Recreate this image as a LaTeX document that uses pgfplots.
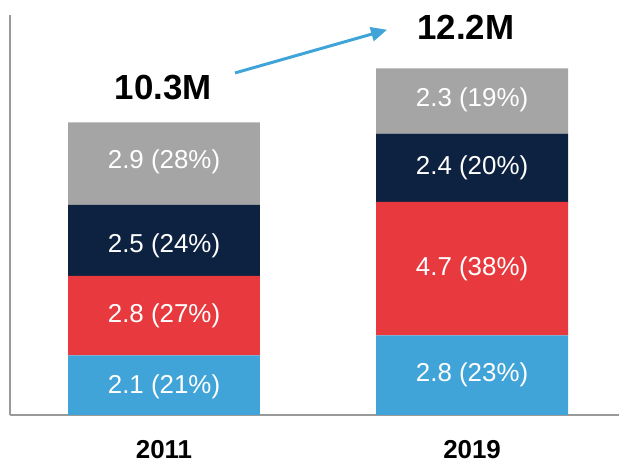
\documentclass[border=0pt]{standalone}
\usepackage{pgfplots}
\pgfplotsset{compat=1.18}
\usepackage{fontspec}
\setmainfont{Liberation Sans}
\usetikzlibrary{arrows.meta}

\definecolor{segblue}{HTML}{40A4D8}
\definecolor{segred}{HTML}{E83A3E}
\definecolor{segnavy}{HTML}{0D2240}
\definecolor{seggray}{HTML}{A5A5A5}
\definecolor{axisgray}{HTML}{9A9A9A}

\tikzset{seglabel/.style={text=white, font=\fontsize{26}{30}\selectfont}}

\begin{document}
\begin{tikzpicture}
\path[use as bounding box] (0,0) rectangle (619bp,464bp);
\begin{axis}[
    at={(10bp,49bp)}, anchor=south west,
    scale only axis,
    width=609bp, height=400bp,
    xmin=-0.5, xmax=1.477,
    ymin=0, ymax=14.08,
    ybar stacked,
    bar width=0.623,
    axis x line=bottom, axis y line=left,
    axis line style={-, axisgray, line width=1.2pt},
    ytick=\empty,
    xtick={0,1},
    xticklabels={2011,2019},
    major tick length=0pt,
    xticklabel style={font=\fontsize{26}{30}\selectfont\bfseries, text=black,
        inner sep=0pt, yshift=-25bp},
    clip=false,
]
\addplot[fill=segblue, draw=none] coordinates {(0,2.1) (1,2.8)};
\addplot[fill=segred, draw=none] coordinates {(0,2.8) (1,4.7)};
\addplot[fill=segnavy, draw=none] coordinates {(0,2.5) (1,2.4)};
\addplot[fill=seggray, draw=none] coordinates {(0,2.9) (1,2.3)};

% anchor points for the segment labels (drawn after the axis, on top)
\coordinate (a1) at (axis cs:0,1.0);
\coordinate (a2) at (axis cs:0,3.5);
\coordinate (a3) at (axis cs:0,5.95);
\coordinate (a4) at (axis cs:0,8.9);
\coordinate (b1) at (axis cs:1,1.4);
\coordinate (b2) at (axis cs:1,5.15);
\coordinate (b3) at (axis cs:1,8.7);
\coordinate (b4) at (axis cs:1,11.1);

% totals and growth arrow
\node[font=\fontsize{35}{40}\selectfont\bfseries] at (axis cs:-0.003,11.51) {10.3M};
\node[font=\fontsize{35}{40}\selectfont\bfseries] at (axis cs:0.98,13.66) {12.2M};
\draw[segblue, line width=3bp, -{Triangle[length=16bp,width=14bp]}]
    (axis cs:0.2305,12.04) -- (axis cs:0.724,13.56);
\end{axis}

\node[seglabel] at (a1) {2.1 (21\%)};
\node[seglabel] at (a2) {2.8 (27\%)};
\node[seglabel] at (a3) {2.5 (24\%)};
\node[seglabel] at (a4) {2.9 (28\%)};
\node[seglabel] at (b1) {2.8 (23\%)};
\node[seglabel] at (b2) {4.7 (38\%)};
\node[seglabel] at (b3) {2.4 (20\%)};
\node[seglabel] at (b4) {2.3 (19\%)};
\end{tikzpicture}
\end{document}
